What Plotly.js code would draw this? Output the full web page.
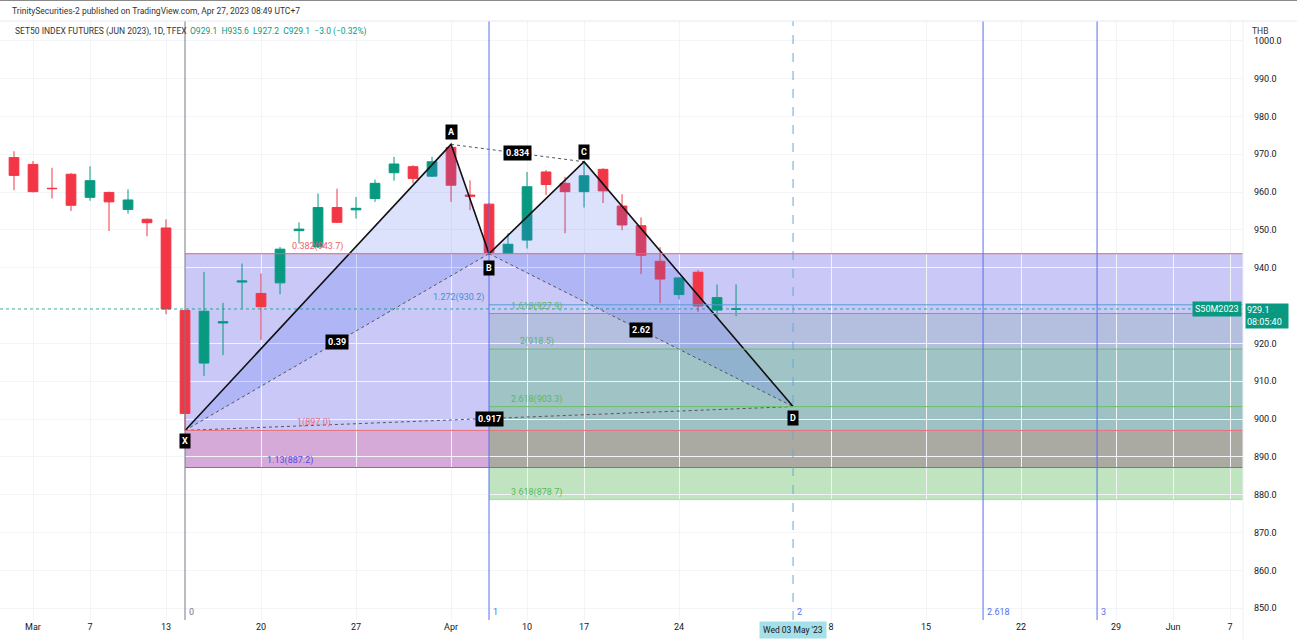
<!DOCTYPE html>
<html><head><meta charset="utf-8">
<script src="https://cdn.plot.ly/plotly-3.0.1.min.js"></script>
<style>html,body{margin:0;padding:0;background:#fff}#chart{width:1297px;height:639px}</style>
</head><body><div id="chart"></div>
<script>
// ---------- DATA ----------
const dates = ['2023-02-28','2023-03-01','2023-03-02','2023-03-03','2023-03-07','2023-03-08','2023-03-09','2023-03-10',
  '2023-03-13','2023-03-14','2023-03-15','2023-03-16','2023-03-17','2023-03-20','2023-03-21','2023-03-22','2023-03-23',
  '2023-03-24','2023-03-27','2023-03-28','2023-03-29','2023-03-30','2023-03-31','2023-04-03','2023-04-04','2023-04-05',
  '2023-04-07','2023-04-10','2023-04-11','2023-04-12','2023-04-17','2023-04-18','2023-04-19','2023-04-20','2023-04-21',
  '2023-04-24','2023-04-25','2023-04-26','2023-04-27'];
const futureDates = ['2023-04-28','2023-05-02','2023-05-03','2023-05-05','2023-05-08','2023-05-09','2023-05-10','2023-05-11',
  '2023-05-12','2023-05-15','2023-05-16','2023-05-17','2023-05-18','2023-05-19','2023-05-22','2023-05-23','2023-05-24',
  '2023-05-25','2023-05-26','2023-05-29','2023-05-30','2023-05-31','2023-06-01','2023-06-02','2023-06-06','2023-06-07','2023-06-08'];
const openP  = [969.1,967.3,961.0,964.7,958.6,959.9,955.4,952.8,950.5,928.7,914.8,925.4,936.2,933.2,936.0,949.8,945.5,955.9,955.3,958.3,965.1,966.7,964.2,971.8,959.2,956.8,943.8,947.3,965.3,962.3,960.1,966.0,956.3,951.1,941.7,932.9,938.8,928.8,929.1];
const highP  = [970.8,968.2,966.4,965.0,966.8,960.1,960.7,953.0,952.8,928.9,938.9,930.7,941.1,938.5,945.5,952.0,959.6,960.9,958.7,963.3,969.3,967.1,969.3,972.6,963.1,957.1,949.1,965.3,965.8,964.0,968.0,966.3,959.4,953.3,945.4,937.6,939.4,935.6,935.6];
const lowP   = [960.5,959.9,958.3,955.0,957.7,949.7,954.3,948.3,927.7,897.0,911.4,916.9,929.2,920.9,933.0,946.4,945.2,951.8,953.0,957.4,963.0,962.3,964.0,957.4,955.2,943.7,943.9,945.1,959.2,949.1,955.9,957.1,949.9,938.3,930.6,931.6,928.3,927.0,927.2];
const closeP = [964.4,960.1,960.9,956.5,963.0,957.4,957.9,951.9,929.1,901.5,928.5,925.7,936.5,929.7,944.9,950.2,955.9,952.0,955.7,962.3,967.4,963.6,968.0,961.8,958.9,944.0,946.2,961.4,962.0,960.1,964.3,960.3,951.3,943.3,937.0,937.3,929.9,932.1,929.1];

const tickDates  = ['2023-03-01','2023-03-07','2023-03-13','2023-03-20','2023-03-27','2023-04-03','2023-04-10','2023-04-17','2023-04-24','2023-05-08','2023-05-15','2023-05-22','2023-05-29','2023-06-01','2023-06-07'];
const tickLabels = ['Mar','7','13','20','27','Apr','10','17','24','8','15','22','29','Jun','7'];
const priceTicks = [850,860,870,880,890,900,910,920,940,950,960,970,980,990,1000];

const patternLabels = ['X','A','B','C','D'];
const patternDates  = ['2023-03-14','2023-04-03','2023-04-05','2023-04-17','2023-05-03'];
const patternPrices = [897.0, 972.6, 943.7, 968.0, 903.3];
const ratioPairs  = [[0,2],[1,3],[2,4],[0,4]];
const ratioValues = ['0.39','0.834','2.62','0.917'];

const fibXLevels = ['0.382','1','1.13'];
const fibXPrices = [943.7, 897.0, 887.2];
const fibBLevels = ['1.272','1.618','2','2.618','3.618'];
const fibBPrices = [930.2, 927.9, 918.5, 903.3, 878.7];

const timeFibLevels = ['0','1','2','2.618','3'];
const timeFibDates  = ['2023-03-14','2023-04-05','2023-05-03','2023-05-18','2023-05-26'];

const symbolTitle = 'SET50 INDEX FUTURES (JUN 2023), 1D, TFEX';
const symbolCode = 'S50M2023';
const countdown = '08:05:40';
const currency = 'THB';
const crosshairDate = '2023-05-03';
const crosshairLabel = "Wed 03 May '23";
const headerText = 'TrinitySecurities-2 published on TradingView.com, Apr 27, 2023 08:49 UTC+7';

// ---------- STYLE / LAYOUT ----------
const W = 1297, H = 639, ML = 0, MR = 54, MT = 21, MB = 19;
const PW = W - ML - MR, PH = H - MT - MB;
const px = x => (x - ML) / PW;
const py = y => (H - MB - y) / PH;
const UP = '#089981', DN = '#f23645';
const FONT = 'Roboto, "Liberation Sans", Arial, sans-serif';
const allDates = dates.concat(futureDates);
const idx = d => allDates.indexOf(d);
const last = dates.length - 1;
const XMAX = allDates.length + 4;

const upI = [], dnI = [];
closeP.forEach((c, i) => (c >= openP[i] ? upI : dnI).push(i));
function candleTrace(ids, col) {
  return {type: 'candlestick', x: ids.map(i => idx(dates[i])), open: ids.map(i => openP[i]), high: ids.map(i => highP[i]),
    low: ids.map(i => lowP[i]), close: ids.map(i => closeP[i]), whiskerwidth: 0, hoverinfo: 'skip', showlegend: false,
    increasing: {line: {color: col, width: 1}, fillcolor: col}, decreasing: {line: {color: col, width: 1}, fillcolor: col}};
}

const pX = patternDates.map(idx);
const traces = [];
// triangles XAB and BCD
[[0,1,2],[2,3,4]].forEach(tri => {
  const t = tri.concat(tri[0]);
  traces.push({type: 'scatter', mode: 'lines', x: t.map(i => pX[i]), y: t.map(i => patternPrices[i]),
    fill: 'toself', fillcolor: 'rgba(80,110,240,0.20)', line: {width: 0}, hoverinfo: 'skip', showlegend: false});
});
traces.push(candleTrace(upI, UP));
traces.push(candleTrace(dnI, DN));
// dotted ratio lines
ratioPairs.forEach(([a, b]) => traces.push({type: 'scatter', mode: 'lines', x: [pX[a], pX[b]], y: [patternPrices[a], patternPrices[b]],
  line: {color: '#555', width: 1, dash: 'dot'}, hoverinfo: 'skip', showlegend: false}));
// main pattern lines
traces.push({type: 'scatter', mode: 'lines', x: pX, y: patternPrices, line: {color: '#111', width: 1.6}, hoverinfo: 'skip', showlegend: false});

const shapes = [];
const xX = pX[0], xB = pX[2];
function band(x0, x1, p0, p1, color) {
  shapes.push({type: 'rect', layer: 'below', xref: 'x', yref: 'y', x0, x1, y0: p0, y1: p1, fillcolor: color, line: {width: 0, color: 'rgba(0,0,0,0)'}});
}
band(xX, xB, fibXPrices[0], fibXPrices[1], 'rgb(201,200,247)');
band(xX, xB, fibXPrices[1], fibXPrices[2], 'rgb(213,170,216)');
band(xB, XMAX, fibXPrices[0], fibBPrices[1], 'rgb(201,200,247)');
band(xB, XMAX, fibBPrices[1], fibBPrices[2], 'rgb(180,190,222)');
band(xB, XMAX, fibBPrices[2], fibBPrices[3], 'rgb(160,195,198)');
band(xB, XMAX, fibBPrices[3], fibXPrices[1], 'rgb(158,193,196)');
band(xB, XMAX, fibXPrices[1], fibXPrices[2], 'rgb(170,170,162)');
band(xB, XMAX, fibXPrices[2], fibBPrices[4], 'rgb(192,228,192)');

function hline(x0, p, color, w, dash) {
  shapes.push({type: 'line', layer: 'above', xref: 'x', yref: 'y', x0, x1: XMAX, y0: p, y1: p, line: {color, width: w || 1, dash: dash || 'solid'}});
}
const fibXColors = ['#f0606e', '#e8707a', '#6b6bff'];
const fibXLabelColors = ['#f0606e', '#e8707a', '#5a48e6'];
fibXPrices.forEach((p, i) => hline(xX, p, fibXColors[i], 1));
const fibBColors = ['#5b9bd5', '#56b88a', '#6cbf6c', '#6cbf6c', 'rgba(108,191,108,0.4)'];
fibBPrices.forEach((p, i) => hline(xB, p, fibBColors[i], 1));
// last price dotted line
shapes.push({type: 'line', layer: 'above', xref: 'paper', yref: 'y', x0: 0, x1: 1, y0: closeP[last], y1: closeP[last], line: {color: 'rgba(8,153,129,0.8)', width: 1, dash: 'dot'}});

// time fib lines
const tfColors = ['#787b86', '#5470ec', '#5470ec', '#5470ec', '#5470ec'];
timeFibDates.forEach((d, i) => {
  if (d === crosshairDate) return;
  shapes.push({type: 'line', layer: 'above', xref: 'x', yref: 'paper', x0: idx(d), x1: idx(d), y0: 0, y1: 1, line: {color: tfColors[i], width: 1}});
});
// crosshair
shapes.push({type: 'line', layer: 'above', xref: 'x', yref: 'paper', x0: idx(crosshairDate), x1: idx(crosshairDate), y0: 0, y1: 1, line: {color: '#5fa8e0', width: 1, dash: 'dash'}});
// frame lines
shapes.push({type: 'line', xref: 'paper', yref: 'paper', x0: 0, x1: W / PW, y0: py(0.5), y1: py(0.5), line: {color: '#8a8a8a', width: 1}});
shapes.push({type: 'line', xref: 'paper', yref: 'paper', x0: 0, x1: W / PW, y0: 1, y1: 1, line: {color: '#e6e8ee', width: 1}});
shapes.push({type: 'line', xref: 'paper', yref: 'paper', x0: 1, x1: 1, y0: py(H), y1: 1, line: {color: '#eef0f4', width: 1}});

const ann = [];
const txt = (text, x, y, o) => ann.push(Object.assign({xref: 'paper', yref: 'paper', x: px(x), y: py(y), text, showarrow: false,
  xanchor: 'left', yanchor: 'middle', font: {family: FONT, size: 9, color: '#131722'}}, o || {}));
txt(headerText, 10, 11, {font: {family: FONT, size: 8.5, color: '#333'}});
txt(symbolTitle, 13, 31, {font: {family: FONT, size: 8.5, color: '#333'}});
const chg = closeP[last] - closeP[last - 1];
const pct = chg / closeP[last - 1] * 100;
const ohlcText = `O${openP[last].toFixed(1)}  H${highP[last].toFixed(1)}  L${lowP[last].toFixed(1)}  C${closeP[last].toFixed(1)}  ${chg < 0 ? '\u2212' : '+'}${Math.abs(chg).toFixed(1)} (${pct < 0 ? '\u2212' : '+'}${Math.abs(pct).toFixed(2)}%)`;
txt(ohlcText, 188, 31, {font: {family: FONT, size: 8.5, color: UP}});
txt(currency, 1250, 31, {font: {family: FONT, size: 8.5, color: '#333'}});

// fib level labels
const fibXLabelX = [15.95, 15.8, 14.5];
fibXLevels.forEach((l, i) => ann.push({xref: 'x', yref: 'y', x: fibXLabelX[i], y: fibXPrices[i], yanchor: 'bottom', showarrow: false,
  text: `${l}(${fibXPrices[i].toFixed(1)})`, font: {family: FONT, size: 9, color: fibXLabelColors[i]}}));
const fibBLabelX = [23.4, 27.5, 27.5, 27.5, 27.5];
const fibBTextColors = ['#4a8fd0', '#5cb85c', '#5cb85c', '#5cb85c', '#5cb85c'];
fibBLevels.forEach((l, i) => ann.push({xref: 'x', yref: 'y', x: fibBLabelX[i], y: fibBPrices[i], yanchor: 'bottom', showarrow: false,
  text: `${l}(${fibBPrices[i].toFixed(1)})`, font: {family: FONT, size: 9, color: fibBTextColors[i]}}));

// point labels
const pShift = [-11, 12, -14, 10, -11];
patternLabels.forEach((l, i) => ann.push({xref: 'x', yref: 'y', x: pX[i], y: patternPrices[i], yshift: pShift[i], yanchor: 'middle', showarrow: false,
  text: '<b>' + l + '</b>', bgcolor: '#000', borderpad: 2, font: {family: FONT, size: 9, color: '#fff'}}));
// ratio labels
ratioPairs.forEach(([a, b], i) => ann.push({xref: 'x', yref: 'y', x: (pX[a] + pX[b]) / 2, y: (patternPrices[a] + patternPrices[b]) / 2,
  yanchor: 'middle', showarrow: false, text: '<b>' + ratioValues[i] + '</b>', bgcolor: '#000', borderpad: 2, font: {family: FONT, size: 9, color: '#fff'}}));

// time fib labels
timeFibDates.forEach((d, i) => ann.push({xref: 'x', yref: 'paper', x: idx(d), y: py(612), xanchor: 'left', yanchor: 'middle', xshift: 2, showarrow: false,
  text: timeFibLevels[i], font: {family: FONT, size: 9, color: tfColors[i]}}));

// price labels
ann.push({xref: 'paper', yref: 'y', x: 1, y: closeP[last], xanchor: 'right', yanchor: 'middle', xshift: -1, showarrow: false, text: symbolCode,
  bgcolor: UP, borderpad: 2, font: {family: FONT, size: 9, color: '#fff'}});
ann.push({xref: 'paper', yref: 'y', x: 1, y: closeP[last], xanchor: 'left', yanchor: 'top', yshift: 6, xshift: 2, showarrow: false,
  text: closeP[last].toFixed(1) + '<br>' + countdown, align: 'left', bgcolor: UP, borderpad: 1, width: 40,
  font: {family: FONT, size: 9, color: '#fff'}});
// crosshair date label
ann.push({xref: 'x', yref: 'paper', x: idx(crosshairDate), y: py(630), yanchor: 'middle', showarrow: false, text: crosshairLabel,
  bgcolor: '#a5e0ea', borderpad: 3, font: {family: FONT, size: 8.5, color: '#131722'}});

const layout = {
  width: W, height: H, margin: {l: ML, r: MR, t: MT, b: MB}, paper_bgcolor: '#fff', plot_bgcolor: '#fff',
  showlegend: false, boxmode: 'overlay', boxgap: 0.27, hovermode: false,
  xaxis: {type: 'linear', range: [-0.737, 64.68],
    tickmode: 'array', tickvals: tickDates.map(idx), ticktext: tickLabels, showgrid: true, gridcolor: '#f3f4f7',
    zeroline: false, showline: false, ticks: '', rangeslider: {visible: false}, fixedrange: true,
    tickfont: {family: FONT, size: 9, color: '#131722'}},
  yaxis: {side: 'right', range: [846.9, 1005.2], tickmode: 'array', tickvals: priceTicks, ticktext: priceTicks.map(v => v.toFixed(1)),
    showgrid: true, gridcolor: '#f3f4f7',
    zeroline: false, showline: false, ticks: '', ticklabelstandoff: 10, fixedrange: true,
    tickfont: {family: FONT, size: 9, color: '#131722'}},
  shapes, annotations: ann
};
Plotly.newPlot('chart', traces, layout, {displayModeBar: false, staticPlot: true});
</script></body></html>
